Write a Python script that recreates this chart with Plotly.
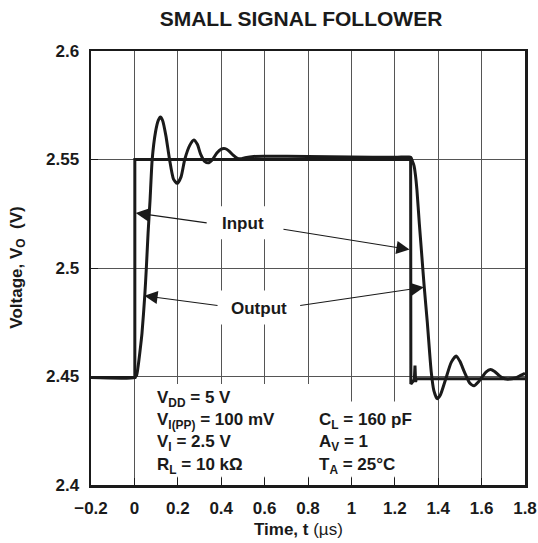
import plotly.graph_objects as go

# ---- data ----
input_t = [-0.2, 0.002, 0.002, 1.273, 1.274, 1.29, 1.293, 1.296, 1.299, 1.8]
input_v = [2.4495, 2.4495, 2.55, 2.55, 2.4465, 2.4485, 2.455, 2.4475, 2.449, 2.449]

output_t = [-0.2, 0.0, 0.01, 0.017, 0.025, 0.035, 0.048, 0.055, 0.063, 0.072, 0.082,
            0.097, 0.11, 0.12, 0.13, 0.145, 0.162, 0.18, 0.197, 0.215, 0.232, 0.255,
            0.274, 0.29, 0.305, 0.325, 0.343, 0.36, 0.38, 0.40, 0.418, 0.435, 0.455,
            0.475, 0.49, 0.51, 0.55, 0.6, 0.8, 1.0, 1.2, 1.265, 1.274, 1.282, 1.289,
            1.295, 1.302, 1.313, 1.325, 1.335, 1.35, 1.368, 1.38, 1.395, 1.41, 1.435,
            1.46, 1.483, 1.50, 1.521, 1.545, 1.565, 1.585, 1.603, 1.62, 1.641, 1.66,
            1.68, 1.70, 1.715, 1.74, 1.76, 1.78, 1.8]
output_v = [2.4495, 2.4495, 2.4505, 2.4546, 2.461, 2.470, 2.4876, 2.500, 2.516, 2.531, 2.550,
            2.5625, 2.568, 2.5696, 2.568, 2.561, 2.550, 2.541, 2.539, 2.542, 2.550, 2.5565,
            2.559, 2.557, 2.5525, 2.549, 2.5485, 2.550, 2.553, 2.5548, 2.555, 2.554, 2.552,
            2.5505, 2.5503, 2.5508, 2.5514, 2.5515, 2.5514, 2.5512, 2.551, 2.5512, 2.551, 2.549, 2.547,
            2.543, 2.536, 2.5205, 2.505, 2.492, 2.4747, 2.452, 2.4435, 2.4398, 2.4415, 2.449,
            2.4565, 2.4595, 2.457, 2.452, 2.447, 2.4457, 2.4475, 2.4498, 2.452, 2.4532, 2.4523,
            2.4505, 2.4492, 2.4488, 2.449, 2.4495, 2.4505, 2.4515]

x_tickvals = [-0.2, 0, 0.2, 0.4, 0.6, 0.8, 1, 1.2, 1.4, 1.6, 1.8]
x_ticktext = ["\u22120.2", "0", "0.2", "0.4", "0.6", "0.8", "1", "1.2", "1.4", "1.6", "1.8"]
y_tickvals = [2.4, 2.45, 2.5, 2.55, 2.6]
y_ticktext = ["2.4", "2.45", "2.5", "2.55", "2.6"]

title_text = "SMALL SIGNAL FOLLOWER"
x_title = "<b>Time, t </b>(\u00b5s)"
y_title = "<b>Voltage, V<sub>O</sub>  (V)</b>"

cond_left = ["V<sub>DD</sub> = 5 V", "V<sub>I(PP)</sub> = 100 mV",
             "V<sub>I</sub> = 2.5 V", "R<sub>L</sub> = 10 k\u03a9"]
cond_right = ["C<sub>L</sub> = 160 pF", "A<sub>V</sub> = 1", "T<sub>A</sub> = 25\u00b0C"]

FONT = "Liberation Sans, Arial, Helvetica, sans-serif"
INK = "#1a1a1a"

fig = go.Figure()
fig.add_trace(go.Scatter(x=input_t, y=input_v, mode="lines",
                         line=dict(color=INK, width=3), showlegend=False))
fig.add_trace(go.Scatter(x=output_t, y=output_v, mode="lines",
                         line=dict(color=INK, width=3, shape="spline", smoothing=0.6),
                         showlegend=False))

# white boxes hiding the grid behind labels
white_boxes = [
    (0.385, 0.615, 2.5132, 2.5285),
    (0.39, 0.75, 2.474, 2.4896),
    (0.05, 0.9, 2.4038, 2.4465),
    (0.9, 1.26, 2.4038, 2.4385),
]
for x0, x1, y0, y1 in white_boxes:
    fig.add_shape(type="rect", x0=x0, x1=x1, y0=y0, y1=y1, xref="x", yref="y",
                  fillcolor="white", line=dict(width=0), layer="between")

# labels
fig.add_annotation(x=0.5, y=2.5205, text="<b>Input</b>", showarrow=False,
                   font=dict(family=FONT, size=17, color=INK))
fig.add_annotation(x=0.576, y=2.4815, text="<b>Output</b>", showarrow=False,
                   font=dict(family=FONT, size=17, color=INK))

arrows = [
    (0.006, 2.5254, 0.34, 2.5207),
    (1.268, 2.5085, 0.68, 2.518),
    (0.046, 2.4872, 0.39, 2.4826),
    (1.334, 2.4911, 0.757, 2.4826),
]
for tx, ty, sx, sy in arrows:
    fig.add_annotation(x=tx, y=ty, ax=sx, ay=sy, xref="x", yref="y", axref="x", ayref="y",
                       text="", showarrow=True, arrowhead=2, arrowsize=2.4, arrowwidth=1.1,
                       arrowcolor=INK, standoff=0, startstandoff=0)

left_y = [2.4397, 2.4296, 2.4195, 2.4089]
right_y = [2.4296, 2.4195, 2.4089]
for txt, yy in zip(cond_left, left_y):
    fig.add_annotation(x=0.095, y=yy, text="<b>" + txt + "</b>", showarrow=False,
                       xanchor="left", yanchor="middle",
                       font=dict(family=FONT, size=17, color=INK))
for txt, yy in zip(cond_right, right_y):
    fig.add_annotation(x=0.843, y=yy, text="<b>" + txt + "</b>", showarrow=False,
                       xanchor="left", yanchor="middle",
                       font=dict(family=FONT, size=17, color=INK))

# axis titles
fig.add_annotation(x=0.4774, y=-0.129, xref="paper", yref="paper", text=x_title,
                   showarrow=False, xanchor="center", yanchor="bottom",
                   font=dict(family=FONT, size=17, color=INK))
fig.add_annotation(x=-0.169, y=0.5, xref="paper", yref="paper", text=y_title,
                   showarrow=False, textangle=-90, xanchor="center", yanchor="middle",
                   font=dict(family=FONT, size=17, color=INK))

axis_common = dict(showline=True, linewidth=2.5, linecolor=INK, mirror=True,
                   showgrid=True, gridcolor="#555555", gridwidth=1, zeroline=False,
                   ticks="inside", ticklen=7, tickwidth=1, tickcolor=INK,
                   tickfont=dict(family=FONT, size=17, color=INK, weight="bold"),
                   ticklabelstandoff=6, automargin=False, ticklabeloverflow="allow")

fig.update_xaxes(range=[-0.2, 1.8], tickvals=x_tickvals, ticktext=x_ticktext, **axis_common)
fig.update_yaxes(range=[2.4, 2.6], tickvals=y_tickvals, ticktext=y_ticktext, **axis_common)

fig.update_layout(
    width=538, height=543,
    margin=dict(l=91, r=13, t=51, b=58),
    paper_bgcolor="white", plot_bgcolor="white",
    title=dict(text="<b>" + title_text + "</b>", x=301 / 538, xref="container", xanchor="center",
               y=1 - 19 / 543, yref="container", yanchor="middle",
               font=dict(family=FONT, size=21, color=INK)),
)

fig.write_html("out.html",
               config={"displayModeBar": False, "staticPlot": True},
               post_script="document.body.style.margin='0';document.body.style.overflow='hidden';")
